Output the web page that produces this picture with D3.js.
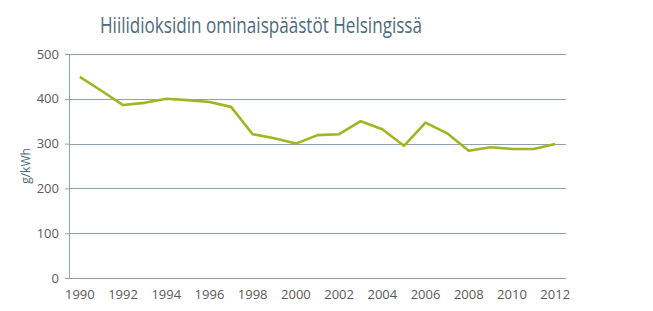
<!DOCTYPE html>
<html>
<head>
<meta charset="utf-8">
<script src="https://cdn.jsdelivr.net/npm/d3@7"></script>
<style>
  body { margin: 0; background: #fff; }
  text { font-family: "Open Sans", sans-serif; }
</style>
</head>
<body>
<div id="plot"></div>
<script>
// Hiilidioksidin ominaispäästöt Helsingissä, g/kWh
var years = [1990,1991,1992,1993,1994,1995,1996,1997,1998,1999,2000,2001,
             2002,2003,2004,2005,2006,2007,2008,2009,2010,2011,2012];
var emissions = [449,418,386,391,400,397,393,382,321,312,300,319,
                 321,350,332,295,347,323,284,292,288,288,299];
var yTicks = [0,100,200,300,400,500];
var titleText = 'Hiilidioksidin ominaispäästöt Helsingissä';
var unitLabel = 'g/kWh';

var W = 653, H = 311;
var margin = {t:54, r:87, b:33, l:69};
var width = W - margin.l - margin.r,
    height = H - margin.t - margin.b;

var svg = d3.select('#plot')
  .append('svg')
  .attr('width', W)
  .attr('height', H);

var plot = svg.append('g')
  .attr('transform', 'translate(' + margin.l + ',' + margin.t + ')');

var x = d3.scaleBand().domain(years).range([0, width]);
var y = d3.scaleLinear().domain([0, 500]).range([height, 0]);

var gridColor = '#8fa2b1';
var textColor = '#595959';

// gridlines
plot.selectAll('.grid')
  .data(yTicks)
  .enter()
  .append('line')
  .attr('x1', 0)
  .attr('x2', width)
  .attr('y1', function(d){ return Math.round(y(d)) + 0.5; })
  .attr('y2', function(d){ return Math.round(y(d)) + 0.5; })
  .style('stroke', gridColor)
  .style('stroke-width', '1px');

// y axis
var yAxis = plot.append('g')
  .call(d3.axisLeft(y).tickValues(yTicks).tickSize(4).tickPadding(6));
yAxis.select('.domain').remove();
yAxis.append('line')
  .attr('x1', 0.5).attr('x2', 0.5)
  .attr('y1', 0).attr('y2', height)
  .style('stroke', gridColor);
yAxis.selectAll('.tick line').style('stroke', gridColor);
yAxis.selectAll('text')
  .style('font-size', '13px')
  .style('fill', textColor)
  .style('font-family', '"Open Sans", sans-serif');

// x axis labels
var xAxis = plot.append('g')
  .attr('transform', 'translate(0,' + height + ')')
  .call(d3.axisBottom(x)
    .tickValues(years.filter(function(d){ return d % 2 === 0; }))
    .tickSize(0).tickPadding(12));
xAxis.select('.domain').remove();
xAxis.selectAll('text')
  .style('font-size', '13px')
  .style('fill', textColor)
  .style('font-family', '"Open Sans", sans-serif');

// line
var line = d3.line()
  .x(function(d, i){ return x(years[i]) + x.bandwidth() / 2; })
  .y(function(d){ return y(d); });

plot.append('path')
  .datum(emissions)
  .attr('d', line)
  .style('fill', 'none')
  .style('stroke', '#a2b51f')
  .style('stroke-width', '2.6px')
  .style('stroke-linejoin', 'round');

// title
svg.append('text')
  .attr('x', 261)
  .attr('y', 33)
  .attr('text-anchor', 'middle')
  .attr('textLength', 322)
  .attr('lengthAdjust', 'spacingAndGlyphs')
  .style('font-size', '21px')
  .style('fill', '#4d6a7c')
  .text(titleText);

// unit label
svg.append('text')
  .attr('transform', 'translate(30,' + (margin.t + height / 2) + ') rotate(-90)')
  .attr('text-anchor', 'middle')
  .style('font-size', '12px')
  .style('fill', '#4d6a7c')
  .text(unitLabel);
</script>
</body>
</html>
